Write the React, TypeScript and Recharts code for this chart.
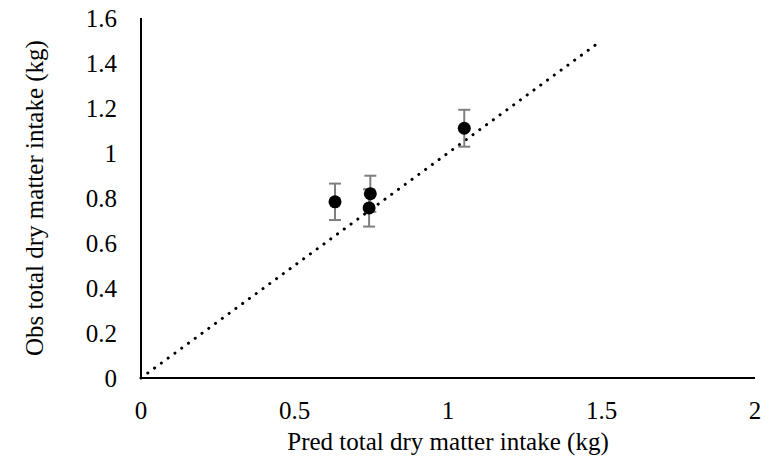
import React from 'react';
import { ScatterChart, Scatter, XAxis, YAxis, ErrorBar, ReferenceLine } from 'recharts';

const predX = [0.632, 0.747, 0.743, 1.053];
const obsY = [0.783, 0.819, 0.756, 1.11];
const errY = [0.081, 0.08, 0.083, 0.082];
const xTicks = [0, 0.5, 1, 1.5, 2];
const yTicks = [0, 0.2, 0.4, 0.6, 0.8, 1, 1.2, 1.4, 1.6];
const lineX = [0, 1.5];
const lineY = [0, 1.5];

const data = predX.map((x, i) => ({ x, y: obsY[i], err: errY[i] }));

const FONT = '"Liberation Serif", "Times New Roman", serif';
const FS = 25;

const YTitle = (props: any) => {
  const vb = props.viewBox || { x: 0, y: 0, width: 0, height: 0 };
  const cx = vb.x + 43;
  const cy = vb.y + vb.height / 2;
  return (
    <text
      x={cx}
      y={cy}
      transform={`rotate(-90, ${cx}, ${cy})`}
      textAnchor="middle"
      fontFamily={FONT}
      fontSize={FS}
      fill="#000"
    >
      Obs total dry matter intake (kg)
    </text>
  );
};

export default function App() {
  return (
    <div style={{ position: 'absolute', left: 0, top: 0, background: '#fff' }}>
      <ScatterChart width={778} height={461} margin={{ top: 18, right: 23, bottom: 0, left: 0 }}>
        <XAxis
          type="number"
          dataKey="x"
          domain={[0, 2]}
          ticks={xTicks}
          height={83}
          tickLine={false}
          tickSize={0}
          tickMargin={23}
          axisLine={{ stroke: '#000', strokeWidth: 2 }}
          tick={{ fill: '#000', fontFamily: FONT, fontSize: FS }}
          label={{
            value: 'Pred total dry matter intake (kg)',
            position: 'insideBottom',
            offset: 11,
            fill: '#000',
            fontFamily: FONT,
            fontSize: FS,
          }}
        />
        <YAxis
          type="number"
          dataKey="y"
          domain={[0, 1.6]}
          ticks={yTicks}
          width={141}
          tickLine={false}
          tickSize={0}
          tickMargin={24}
          axisLine={{ stroke: '#000', strokeWidth: 2 }}
          tick={{ fill: '#000', fontFamily: FONT, fontSize: FS }}
          label={<YTitle />}
        />
        <ReferenceLine
          segment={[
            { x: lineX[0], y: lineY[0] },
            { x: lineX[1], y: lineY[1] },
          ]}
          stroke="#000"
          strokeWidth={3}
          strokeDasharray="0.1 8.3"
          strokeLinecap="round"
        />
        <Scatter data={data} fill="#000" isAnimationActive={false} shape={(p: any) => <circle cx={p.cx} cy={p.cy} r={6.5} fill="#000" />}>
          <ErrorBar dataKey="err" direction="y" width={6} stroke="#7f7f7f" strokeWidth={2} isAnimationActive={false} />
        </Scatter>
      </ScatterChart>
    </div>
  );
}
